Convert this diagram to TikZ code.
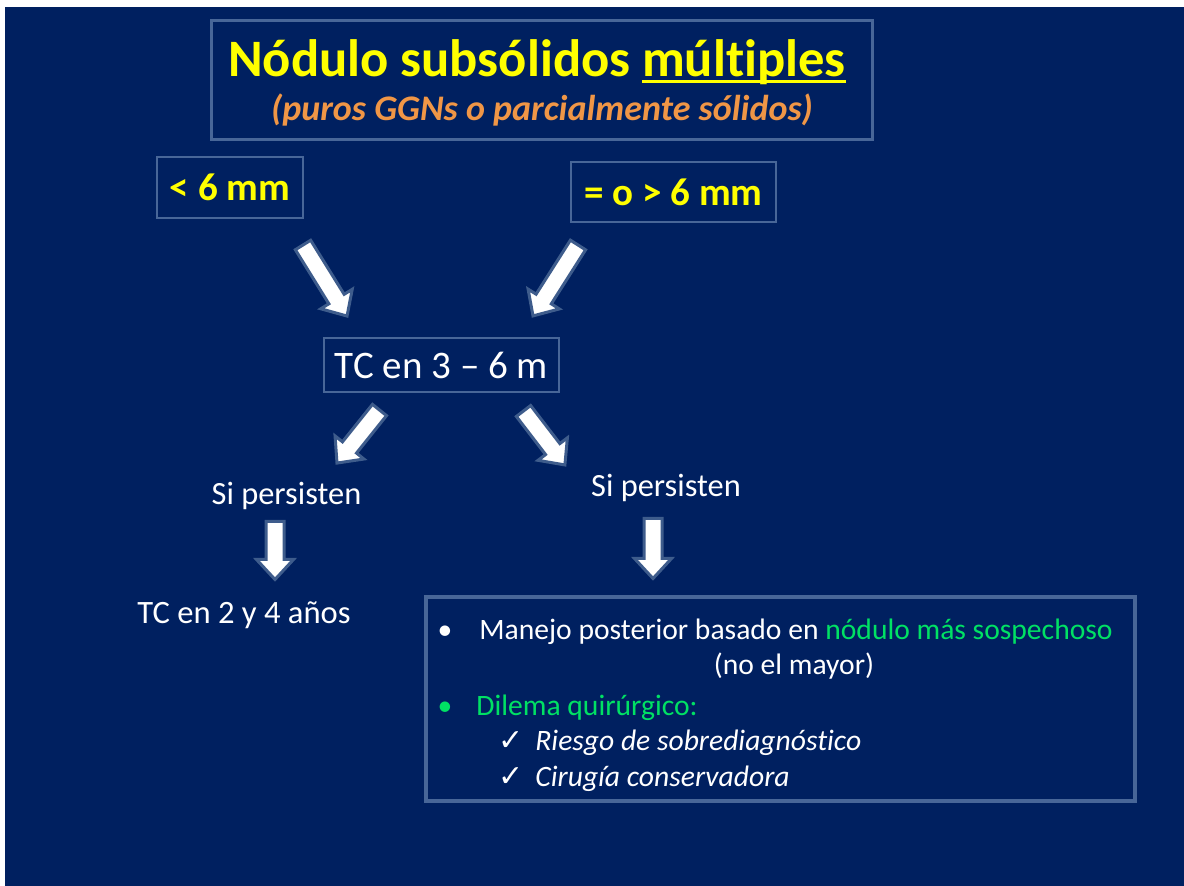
\documentclass[tikz,border=0pt]{standalone}
\usepackage{fontspec}
\setmainfont{Carlito}[Ligatures=NoCommon]
\newfontfamily\dejavu{DejaVu Sans}
\usetikzlibrary{calc}
\definecolor{navy}{RGB}{0,32,96}
\definecolor{boxline}{RGB}{72,102,152}
\definecolor{arrline}{RGB}{62,92,140}
\definecolor{ttlyellow}{RGB}{255,255,0}
\definecolor{subor}{RGB}{240,150,70}
\definecolor{hlgreen}{RGB}{0,225,100}
\newcommand\ulword[1]{{\setbox0\hbox{#1}\rlap{\rule[-3pt]{\wd0}{1.5pt}}\box0}}
\newcommand\blockarrow[3]{\draw[blockarr, shift={(#1)}, rotate=#2] (0pt,-4.5pt) -- ({#3-10pt},-4.5pt) -- ({#3-10pt},-9.25pt) -- (#3,0pt) -- ({#3-10pt},9.25pt) -- ({#3-10pt},4.5pt) -- (0pt,4.5pt) -- cycle;}
\begin{document}
\begin{tikzpicture}[x=0.5pt,y=-0.5pt,
  panel/.style={draw=boxline, line width=#1, inner sep=0pt, align=center},
  panel/.default=1pt,
  txt/.style={inner sep=0pt, text=white},
  blockarr/.style={fill=white, draw=arrline, line width=1.5pt, line join=miter}]
\useasboundingbox (0,0) rectangle (1184,886);
\fill[white] (0,0) rectangle (1184,886);
\fill[navy] (5,7) rectangle (1184,886);
% title
\node[panel=1.5pt, minimum width=330.5pt, minimum height=59.5pt] (titlebox) at (541.5,80.5) {};
\node[inner sep=0pt, anchor=base, text=ttlyellow, font=\bfseries\fontsize{26.3}{30}\selectfont] (title) at (537,77) {Nódulo subsólidos \ulword{múltiples}};
\node[inner sep=0pt, anchor=base, text=subor, font=\bfseries\itshape\fontsize{18}{21}\selectfont] (subtitle) at (542,121) {(puros GGNs o parcialmente sólidos)};
% size boxes
\node[panel=0.8pt, minimum width=73pt, minimum height=30.5pt, text=ttlyellow, font=\bfseries\fontsize{19.5}{22}\selectfont] (small) at (230,187.5) {< 6 mm};
\node[panel=0.8pt, minimum width=102.5pt, minimum height=30pt, text=ttlyellow, font=\bfseries\fontsize{19.5}{22}\selectfont] (large) at (673.5,192) {= o > 6 mm};
\node[panel=0.8pt, minimum width=117.5pt, minimum height=27pt, text=white, font=\fontsize{19.5}{22}\selectfont] (tc36) at (441.5,365) {TC en 3 – 6 m};
% arrows
\coordinate (t1) at (303,245);
\coordinate (t2) at (578,245);
\coordinate (t3) at (379.5,410);
\coordinate (t4) at (523.5,411);
\coordinate (t5) at (275,521.5);
\coordinate (t6) at (653,518.5);
\blockarrow{t1}{-58.2}{41.8pt}
\blockarrow{t2}{-122.4}{42pt}
\blockarrow{t3}{-128.7}{34pt}
\blockarrow{t4}{-52.5}{34pt}
\blockarrow{t5}{-90}{29pt}
\blockarrow{t6}{-90}{30pt}
% left branch
\node[txt, anchor=base, font=\fontsize{16.2}{19}\selectfont] (persL) at (286.5,505) {Si persisten};
\node[txt, anchor=base, font=\fontsize{16.3}{19}\selectfont] (tc24) at (244,624) {TC en 2 y 4 años};
% right branch
\node[txt, anchor=base, font=\fontsize{16.2}{19}\selectfont] (persR) at (666,497) {Si persisten};
\node[panel=1.8pt, minimum width=354.5pt, minimum height=102pt] (mgmt) at (780.5,699) {};
\begin{scope}[every node/.style={txt, font=\fontsize{14.8}{17}\selectfont}]
\node[anchor=base] (dot1) at (445,640) {•};
\node[anchor=base west] (l1) at (479,640) {Manejo posterior basado en \textcolor{hlgreen}{nódulo más sospechoso}};
\node[anchor=base] (l2) at (794,675) {(no el mayor)};
\node[anchor=base, text=hlgreen] (dot2) at (445,716) {•};
\node[anchor=base west, text=hlgreen] (l3) at (476,716) {Dilema quirúrgico:};
\node[anchor=base] (ck1) at (511,751) {\dejavu\fontsize{15}{17}\selectfont ✓};
\node[anchor=base west] (l4) at (535,751) {\itshape Riesgo de sobrediagnóstico};
\node[anchor=base] (ck2) at (511,787) {\dejavu\fontsize{15}{17}\selectfont ✓};
\node[anchor=base west] (l5) at (535,787) {\itshape Cirugía conservadora};
\end{scope}
\end{tikzpicture}
\end{document}
